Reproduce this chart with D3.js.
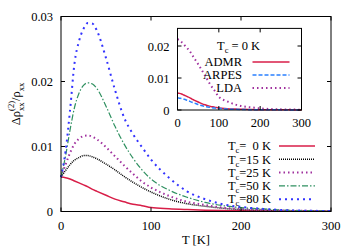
<!DOCTYPE html>
<html><head><meta charset="utf-8">
<script src="https://cdn.jsdelivr.net/npm/d3@7"></script>
<style>
html,body{margin:0;padding:0;background:#fff;}
</style></head>
<body>
<svg id="c" width="355" height="249" font-family="'Liberation Serif', 'Times New Roman', Times, 'DejaVu Serif', serif"></svg>
<script>
// ---------- data ----------
const temps = [0,5,10,15,20,25,30,35,40,50,60,70,80,90,100,120,140,160,180,200,225,250,275,300];
const tc0  = [0.0053,0.0052,0.0050,0.0047,0.0044,0.0041,0.0038,0.0034,0.0031,0.0025,0.0019,0.0015,0.0011,0.0009,0.0006,0.00042,0.0003,0.0002,0.00014,0.0001,0.00007,0.00005,0.00004,0.00003];
const tc15 = [0.0053,0.0063,0.0072,0.0079,0.0083,0.0086,0.0086,0.0084,0.0081,0.0073,0.0064,0.0054,0.0045,0.0037,0.0030,0.0019,0.0012,0.0008,0.0005,0.0003,0.0002,0.0001,0.00007,0.00005];
const tc25 = [0.0053,0.0072,0.0090,0.0104,0.0112,0.0116,0.0117,0.0115,0.0111,0.0099,0.0085,0.0071,0.0058,0.0046,0.0037,0.0024,0.0015,0.0010,0.0006,0.0004,0.00025,0.00015,0.0001,0.00006];
const tc50 = [0.0053,0.0085,0.0125,0.0160,0.0182,0.0194,0.0198,0.0196,0.0189,0.0162,0.0131,0.0104,0.0082,0.0064,0.0050,0.0033,0.0022,0.0014,0.0009,0.0006,0.0004,0.0002,0.00012,0.00007];
const tc80 = [0.0053,0.0092,0.0155,0.0228,0.0262,0.0281,0.0290,0.0289,0.0278,0.0236,0.0187,0.0145,0.0119,0.0099,0.0080,0.0052,0.0031,0.0019,0.0011,0.0007,0.0004,0.0002,0.00012,0.00006];
const admr  = tc0;
const arpes = [0.0038,0.0037,0.0036,0.0034,0.0032,0.0029,0.0027,0.0024,0.0022,0.0017,0.0013,0.0010,0.0008,0.0006,0.0005,0.0003,0.0002,0.00015,0.0001,0.00008,0.00005,0.00004,0.00003,0.00002];
const lda   = [0.0221,0.0218,0.0212,0.0205,0.0198,0.0191,0.0183,0.0173,0.0163,0.0143,0.0122,0.0100,0.0078,0.0060,0.0041,0.0027,0.0017,0.0011,0.0008,0.0005,0.0003,0.0002,0.00015,0.0001];

const mainXTicks = [0,100,200,300];
const mainYTicks = [0,0.01,0.02,0.03];
const mainYLabels = ["0","0.01","0.02","0.03"];
const insetXTicks = [0,100,200,300];
const insetYTicks = [0,0.01,0.02];
const insetYLabels = ["0","0.01","0.02"];

const mainSeries = [
  {name:"=\u00a0\u00a00 K", vals:tc0,  color:"#d81e48", width:1.5, dash:null},
  {name:"=15 K", vals:tc15, color:"#000000", width:1.5, dash:"1,1"},
  {name:"=25 K", vals:tc25, color:"#a0309e", width:2,   dash:"1.5,3"},
  {name:"=50 K", vals:tc50, color:"#2f9060", width:1.2, dash:"6,2,1.5,2"},
  {name:"=80 K", vals:tc80, color:"#3333ff", width:2,   dash:"2,4"}
];
const insetSeries = [
  {name:"ADMR",  vals:admr,  color:"#d81e48", width:1.5, dash:null},
  {name:"ARPES", vals:arpes, color:"#2a80ff", width:1.5, dash:"4,2"},
  {name:"LDA",   vals:lda,   color:"#a0309e", width:2,   dash:"1.5,3"}
];

// ---------- drawing ----------
const svg = d3.select("#c");
const FS = 12.5, SFS = 8.5;

const x = d3.scaleLinear().domain([0,300]).range([61,331]);
const y = d3.scaleLinear().domain([0,0.03]).range([211.5,16.5]);

const line = (xs, ys) => d3.line().x((d,i)=>xs(temps[i])).y(d=>ys(d)).curve(d3.curveMonotoneX);

mainSeries.forEach(s=>{
  svg.append("path").datum(s.vals).attr("d", line(x,y)).attr("fill","none")
    .attr("stroke",s.color).attr("stroke-width",s.width)
    .attr("stroke-dasharray",s.dash);
});

svg.append("rect").attr("x",x(0)).attr("y",y(0.03)).attr("width",x(300)-x(0)).attr("height",y(0)-y(0.03))
  .attr("fill","none").attr("stroke","#000").attr("stroke-width",1);

const TL = 4;
mainXTicks.forEach(t=>{
  svg.append("line").attr("x1",x(t)).attr("x2",x(t)).attr("y1",y(0)).attr("y2",y(0)-TL).attr("stroke","#000");
  svg.append("line").attr("x1",x(t)).attr("x2",x(t)).attr("y1",y(0.03)).attr("y2",y(0.03)+TL).attr("stroke","#000");
  svg.append("text").attr("x",x(t)).attr("y",230).attr("text-anchor","middle").attr("font-size",FS).text(t);
});
mainYTicks.forEach((t,i)=>{
  svg.append("line").attr("x1",x(0)).attr("x2",x(0)+TL).attr("y1",y(t)).attr("y2",y(t)).attr("stroke","#000");
  svg.append("line").attr("x1",x(300)).attr("x2",x(300)-TL).attr("y1",y(t)).attr("y2",y(t)).attr("stroke","#000");
  svg.append("text").attr("x",53).attr("y",y(t)+4.5).attr("text-anchor","end").attr("font-size",FS).text(mainYLabels[i]);
});

svg.append("text").attr("x",196).attr("y",244).attr("text-anchor","middle").attr("font-size",FS).text("T [K]");

// rich text in a single <text> using tspans with absolute x for stacked scripts
function rich(g, parts, x0, y0, anchor){
  const t = g.append("text").attr("y",y0);
  let cx = 0, stackStart = 0, stackW = 0;
  const meas = g.append("text").attr("visibility","hidden");
  const widths = parts.map(p=>{
    meas.attr("font-size",p.size||FS).text(p.t);
    return meas.node().getComputedTextLength();
  });
  meas.remove();
  const pos = [];
  parts.forEach((p,i)=>{
    if(p.stack){ pos.push(stackStart); cx = stackStart + Math.max(stackW, widths[i]); }
    else { stackStart = cx; stackW = widths[i]; pos.push(cx); cx += widths[i]; }
  });
  const total = cx;
  const off = anchor==="end" ? -total : anchor==="middle" ? -total/2 : 0;
  parts.forEach((p,i)=>{
    t.append("tspan").attr("x",x0+off+pos[i]).attr("y",y0+(p.dy||0)).attr("font-size",p.size||FS).text(p.t);
  });
  return t;
}

// y label
{
  const g = svg.append("g").attr("transform","translate(20,104) rotate(-90)");
  rich(g, [{t:"\u0394\u03c1"},{t:"xx",size:SFS,dy:3.5},{t:"(2)",size:SFS,dy:-6,stack:true},{t:"/\u03c1"},{t:"xx",size:SFS,dy:3.5}], 0, 0, "middle");
}

// main legend
const legRows = [146,159.3,172.6,185.9,199.2];
mainSeries.forEach((s,i)=>{
  rich(svg, [{t:"T"},{t:"c",size:SFS,dy:3},{t:s.name}], 271, legRows[i]+4.2, "end");
  svg.append("line").attr("x1",279).attr("x2",315).attr("y1",legRows[i]).attr("y2",legRows[i])
    .attr("stroke",s.color).attr("stroke-width",s.width).attr("stroke-dasharray",s.dash);
});

// ---------- inset ----------
const xi = d3.scaleLinear().domain([0,300]).range([177.5,301.5]);
const yi = d3.scaleLinear().domain([0,0.0255]).range([110,28.4]);

svg.append("rect").attr("x",xi(0)).attr("y",yi(0.0255)).attr("width",xi(300)-xi(0)).attr("height",yi(0)-yi(0.0255))
  .attr("fill","#fff").attr("stroke","none");

insetSeries.forEach(s=>{
  svg.append("path").datum(s.vals).attr("d", line(xi,yi)).attr("fill","none")
    .attr("stroke",s.color).attr("stroke-width",s.width).attr("stroke-dasharray",s.dash);
});
svg.append("rect").attr("x",xi(0)).attr("y",yi(0.0255)).attr("width",xi(300)-xi(0)).attr("height",yi(0)-yi(0.0255))
  .attr("fill","none").attr("stroke","#000").attr("stroke-width",1);

insetXTicks.forEach(t=>{
  svg.append("line").attr("x1",xi(t)).attr("x2",xi(t)).attr("y1",yi(0)).attr("y2",yi(0)-TL).attr("stroke","#000");
  svg.append("line").attr("x1",xi(t)).attr("x2",xi(t)).attr("y1",yi(0.0255)).attr("y2",yi(0.0255)+TL).attr("stroke","#000");
  svg.append("text").attr("x",xi(t)).attr("y",127).attr("text-anchor","middle").attr("font-size",FS).text(t);
});
insetYTicks.forEach((t,i)=>{
  svg.append("line").attr("x1",xi(0)).attr("x2",xi(0)+TL).attr("y1",yi(t)).attr("y2",yi(t)).attr("stroke","#000");
  svg.append("line").attr("x1",xi(300)).attr("x2",xi(300)-TL).attr("y1",yi(t)).attr("y2",yi(t)).attr("stroke","#000");
  svg.append("text").attr("x",169.5).attr("y",yi(t)+4.5).attr("text-anchor","end").attr("font-size",FS).text(insetYLabels[i]);
});

rich(svg, [{t:"T"},{t:"c",size:SFS,dy:3},{t:" = 0 K"}], 237, 49.5, "middle");
const insRows = [62,75,88];
insetSeries.forEach((s,i)=>{
  svg.append("text").attr("x",242).attr("y",insRows[i]+4.2).attr("text-anchor","end").attr("font-size",FS).text(s.name);
  svg.append("line").attr("x1",252.5).attr("x2",289.5).attr("y1",insRows[i]).attr("y2",insRows[i])
    .attr("stroke",s.color).attr("stroke-width",s.width).attr("stroke-dasharray",s.dash);
});
</script>
</body></html>
